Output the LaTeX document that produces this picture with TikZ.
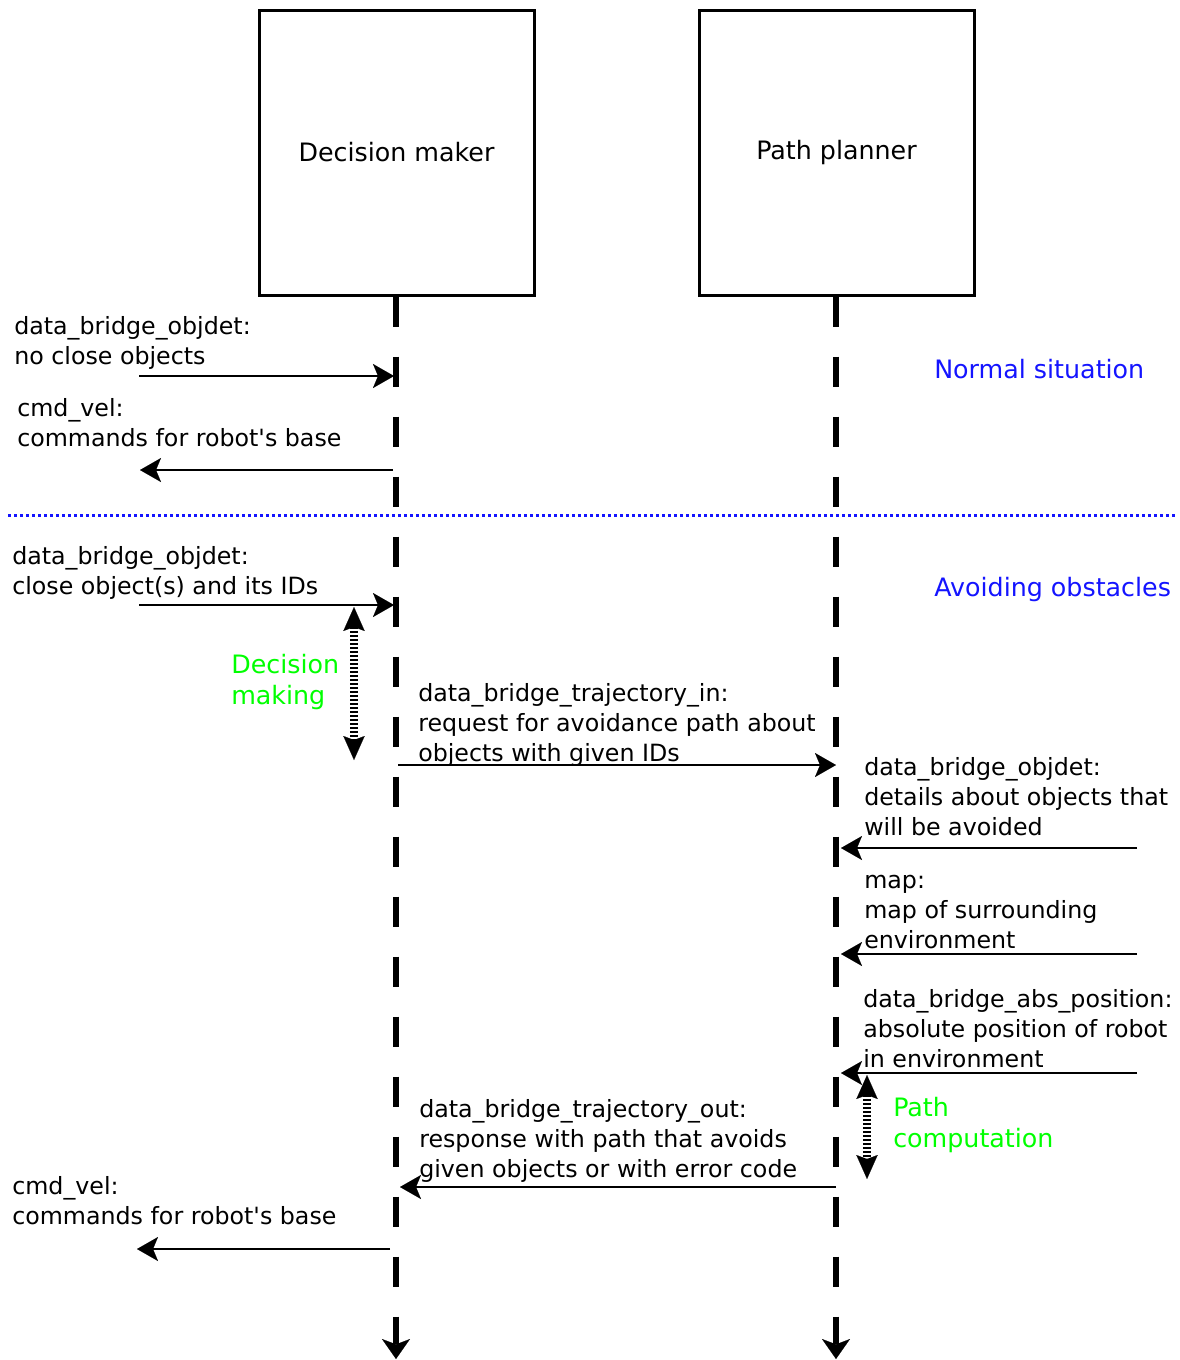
\documentclass[tikz,border=0pt]{standalone}
\usepackage{fontspec}
\setmainfont{DejaVu Sans}
\usetikzlibrary{arrows.meta}
\definecolor{sitblue}{RGB}{20,20,255}
\definecolor{procgreen}{RGB}{0,255,0}
\newcommand\lblfont{\fontsize{17.8pt}{22.5pt}\selectfont}
\newcommand\ttlfont{\fontsize{19pt}{23.25pt}\selectfont}
\begin{document}
\begin{tikzpicture}[x=0.75pt,y=-0.75pt,
 actor/.style={draw, line width=2.25pt, minimum width=206.25pt, minimum height=213.75pt, inner sep=0pt, font=\ttlfont},
 life/.style={line width=4.5pt, dash pattern=on 22.5pt off 22.5pt, -{Stealth[length=15pt,width=21pt,inset=4pt,line width=0.1pt]}},
 msg/.style={line width=1.9pt, -{Stealth[length=15.75pt,width=18pt,inset=3.75pt,line width=0.1pt]}},
 lbl/.style={anchor=base west, align=left, inner sep=0pt, font=\lblfont},
 sit/.style={anchor=base west, inner sep=0pt, font=\ttlfont, text=sitblue},
 proclbl/.style={anchor=base west, align=left, inner sep=0pt, font=\ttlfont, text=procgreen},
 proc/.style={line width=5.5pt, dash pattern=on 1.5pt off 1.5pt,
   {Stealth[length=18pt,width=16pt,inset=3pt,line width=0.1pt]}-{Stealth[length=18pt,width=16pt,inset=3pt,line width=0.1pt]}},
 sep/.style={draw=sitblue, line width=2.25pt, dash pattern=on 2.25pt off 2.25pt}]
\useasboundingbox (0,0) rectangle (1180,1360);

% actors
\node[actor] (dm) at (396.5,152.5) {\raisebox{1.5pt}{Decision maker}};
\node[actor] (pp) at (836.5,152.5) {\raisebox{1.5pt}{Path planner}};
\coordinate (dmend) at (396,1359);
\coordinate (ppend) at (836,1359);
\draw[life] (dmend |- dm.south) -- (dmend);
\draw[life] (ppend |- pp.south) -- (ppend);

% separator
\coordinate (sepa) at (8,515);
\coordinate (sepb) at (1175,515);
\draw[sep] (sepa) -- (sepb);

% situation labels
\node[sit] (sitn) at (934,378) {Normal situation};
\node[sit] (sita) at (934,596) {Avoiding obstacles};

% normal situation
\node[lbl] (l1) at (14,364) {data\_bridge\_objdet:\\no close objects};
\coordinate (m1) at (139,376);
\draw[msg, shorten >=1.5pt] (m1) -- (m1 -| dmend);

\node[lbl] (l2) at (17,446) {cmd\_vel:\\commands for robot\textquotesingle s base};
\coordinate (m2) at (140,470);
\draw[msg, shorten <=2.25pt] (m2 -| dmend) -- (m2);

% avoiding obstacles
\node[lbl] (l4) at (12,594) {data\_bridge\_objdet:\\close object(s) and its IDs};
\coordinate (m4) at (139,605);
\draw[msg, shorten >=1.5pt] (m4) -- (m4 -| dmend);

\node[proclbl] (g1) at (231,704) {Decision\\making};
\coordinate (p1a) at (354,607);
\coordinate (p1b) at (354,760);
\draw[proc] (p1a) -- (p1b);

\node[lbl] (l7) at (418,761) {data\_bridge\_trajectory\_in:\\request for avoidance path about\\objects with given IDs};
\coordinate (m7) at (398,765);
\draw[msg] (m7) -- (m7 -| ppend);

\node[lbl] (l8) at (864,835) {data\_bridge\_objdet:\\details about objects that\\will be avoided};
\coordinate (m8) at (1137,848);
\draw[msg, shorten >=3.75pt] (m8) -- (m8 -| ppend);

\node[lbl] (l9) at (864,948) {map:\\map of surrounding\\environment};
\coordinate (m9) at (1137,954);
\draw[msg, shorten >=3.75pt] (m9) -- (m9 -| ppend);

\node[lbl] (l10) at (863,1067) {data\_bridge\_abs\_position:\\absolute position of robot\\in environment};
\coordinate (m10) at (1137,1073);
\draw[msg, shorten >=3.75pt] (m10) -- (m10 -| ppend);

\coordinate (p2a) at (867,1075);
\coordinate (p2b) at (867,1179);
\draw[proc] (p2a) -- (p2b);
\node[proclbl] (g2) at (893,1147) {Path\\computation};

\node[lbl] (l13) at (419,1177) {data\_bridge\_trajectory\_out:\\response with path that avoids\\given objects or with error code};
\coordinate (m13) at (400,1187);
\draw[msg] (m13 -| ppend) -- (m13);

\node[lbl] (l14) at (12,1224) {cmd\_vel:\\commands for robot\textquotesingle s base};
\coordinate (m14) at (137,1249);
\draw[msg, shorten <=4.5pt] (m14 -| dmend) -- (m14);
\end{tikzpicture}
\end{document}
